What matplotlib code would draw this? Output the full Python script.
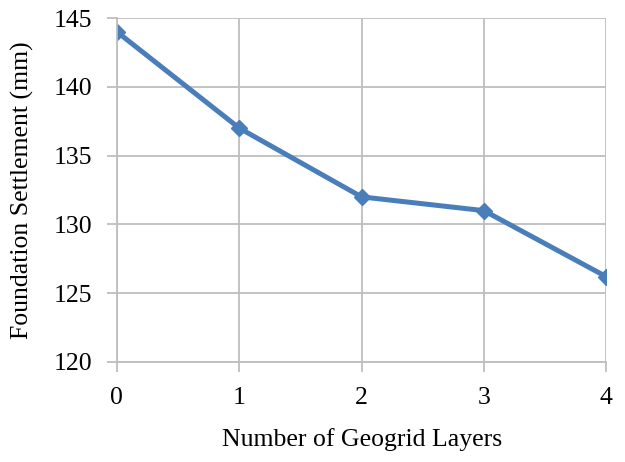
import matplotlib
matplotlib.use('Agg')
import matplotlib.pyplot as plt

# geogrid layers vs foundation settlement
layers = [0, 1, 2, 3, 4]
settlement = [144, 137, 132, 131, 126.2]

plt.rcParams['font.family'] = ['Liberation Serif', 'DejaVu Serif']

fig = plt.figure(figsize=(6.25, 4.62), dpi=100)
ax = fig.add_axes([0.187, 0.2165, 0.783, 0.7445])

ax.plot(layers, settlement, color='#4a7ebb', linewidth=3.6, marker='D', markersize=8)

ax.set_xlim(0, 4)
ax.set_ylim(120, 145)
ax.set_xticks(layers)
ax.set_yticks([120, 125, 130, 135, 140, 145])
ax.grid(True, color='#bebebe', linewidth=1.3)
ax.set_axisbelow(True)
for s in ['top', 'right']:
    ax.spines[s].set_visible(False)
for s in ['left', 'bottom']:
    ax.spines[s].set_color('#bebebe')
    ax.spines[s].set_linewidth(1.3)
ax.tick_params(axis='both', colors='#bebebe', length=7, width=1.3, labelsize=18.5,
               labelcolor='black')
ax.tick_params(axis='x', pad=11)
ax.tick_params(axis='y', pad=11)

ax.set_xlabel('Number of Geogrid Layers', fontsize=18.5, labelpad=14)
ax.set_ylabel('Foundation Settlement (mm)', fontsize=18.5, labelpad=14)

fig.savefig('out.png', dpi=100)
plt.close(fig)
